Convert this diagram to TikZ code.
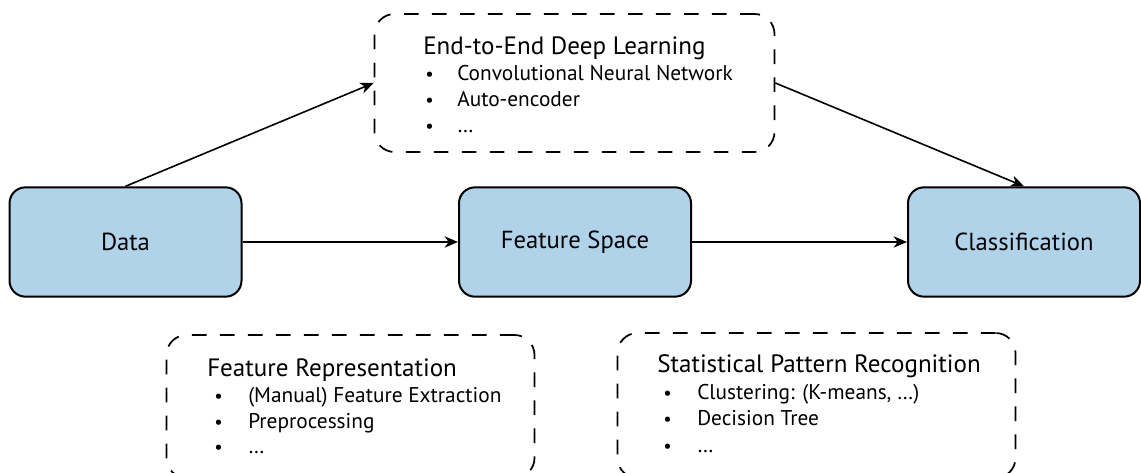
\documentclass[tikz,border=0pt]{standalone}
\usepackage{fontspec}
\setmainfont{PT Sans}
\usepackage{tikz}
\usetikzlibrary{arrows.meta}
\usetikzlibrary{positioning}
\usepackage{color}
\definecolor{boxblue}{RGB}{177, 211, 234}

\tikzset{
  stagebox/.style={draw=black, line width=1.5pt, fill=boxblue, rounded corners=12pt,
                   minimum width=174pt, minimum height=82pt, font=\fontsize{18.5}{20}\selectfont},
  groupbox/.style={draw=black, line width=1.3pt, dash pattern=on 11pt off 10pt, rounded corners=15pt},
  grouptitle/.style={anchor=base west, inner sep=0pt, font=\fontsize{18.8}{20}\selectfont},
  groupitem/.style={anchor=base west, inner sep=0pt, font=\fontsize{16}{18}\selectfont},
  dotmark/.style={anchor=base west, inner sep=0pt, font=\fontsize{14}{16}\selectfont},
  flow/.style={line width=1.2pt, -{Stealth[length=10pt, width=8.5pt, inset=3pt]}}
}

\begin{document}
\begin{tikzpicture}[x=0.75pt, y=-0.75pt]
            \useasboundingbox[fill=white] (0,0) rectangle (1141,473);
            % Main pipeline
            \node[stagebox] (data) at (125.5,242) {Data};
            \node[stagebox] (feat) at (575.0,242) {Feature Space};
            \node[stagebox] (cls)  at (1024.0,242) {Classification};
            % Dashed groups
            \node[groupbox, minimum width=300pt, minimum height=103.5pt] (dlbox)  at (574.5,83) {};
            \node[groupbox, minimum width=276pt, minimum height=107.25pt]  (reprbox) at (350.5,406.5) {};
            \node[groupbox, minimum width=298.5pt, minimum height=108.75pt] (statbox) at (816.5,405.5) {};
            % End-to-End Deep Learning
            \node[grouptitle] (dltitle) at (423,55) {End-to-End Deep Learning};
            \foreach \txt [count=\i] in {Convolutional Neural Network, Auto-encoder, …} {
                \node[dotmark] at (425,55+26*\i) {\textbullet};
                \node[groupitem] at (457,55+26*\i) {\txt};
            }
            % Feature Representation
            \node[grouptitle] (reprtitle) at (207,377) {Feature Representation};
            \foreach \txt [count=\i] in {(Manual) Feature Extraction, Preprocessing, …} {
                \node[dotmark] at (214,377+25.5*\i) {\textbullet};
                \node[groupitem] at (248,377+25.5*\i) {\txt};
            }
            % Statistical Pattern Recognition
            \node[grouptitle] (stattitle) at (657,373) {Statistical Pattern Recognition};
            \foreach \txt [count=\i] in {{Clustering: (K-means, …)}, Decision Tree, …} {
                \node[dotmark] at (663,373+26.5*\i) {\textbullet};
                \node[groupitem] at (697,373+26.5*\i) {\txt};
            }
            % Connectors
            \draw[flow] (data.east)  -- (feat.west);
            \draw[flow] (feat.east)  -- (cls.west);
            \draw[flow] (data.north) -- (dlbox.west);
            \draw[flow] (dlbox.east) -- (cls.north);
\end{tikzpicture}
\end{document}
